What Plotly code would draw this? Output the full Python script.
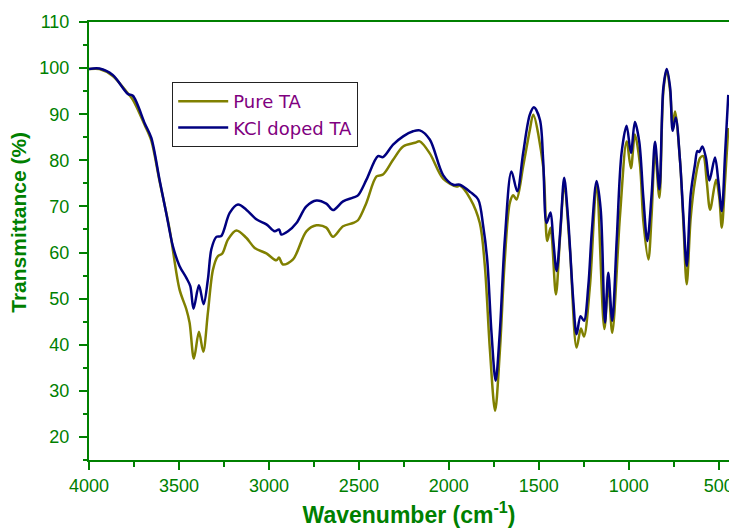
import plotly.graph_objects as go

# Wavenumber (cm^-1) and transmittance (%)
kcl_wn = [4000, 3942, 3868, 3784, 3756, 3690, 3654, 3608, 3571, 3534, 3497, 3459, 3437, 3419,
          3389, 3363, 3339, 3320, 3292, 3265, 3218, 3172, 3126, 3070, 3014, 2968, 2944, 2931,
          2894, 2847, 2792, 2736, 2681, 2644, 2588, 2533, 2505, 2458, 2394, 2366, 2310, 2254,
          2199, 2162, 2106, 2032, 1976, 1939, 1880, 1837, 1809, 1787, 1763, 1740, 1717, 1689,
          1652, 1620, 1587, 1550, 1527, 1494, 1476, 1457, 1435, 1420, 1401, 1379, 1359, 1337,
          1309, 1290, 1268, 1249, 1225, 1206, 1179, 1156, 1132, 1114, 1092, 1067, 1040, 1012,
          988, 966, 942, 919, 897, 873, 854, 830, 808, 789, 770, 756, 739, 715, 697, 678, 656,
          632, 619, 608, 591, 571, 552, 521, 502, 483, 465, 447]
kcl_t = [99.8, 99.9, 98.5, 94.4, 94.0, 88.0, 84.9, 75.8, 68.6, 61.4, 57.1, 54.5, 52.7, 47.8,
         52.9, 48.8, 54.2, 60.7, 63.4, 63.6, 68.6, 70.4, 69.3, 67.2, 66.1, 64.6, 65.0, 63.9,
         64.6, 66.4, 70.0, 71.3, 70.6, 69.2, 71.1, 71.9, 72.4, 75.8, 80.9, 80.7, 83.4, 85.2,
         86.3, 86.5, 84.5, 76.8, 74.7, 74.7, 73.1, 71.5, 65.7, 58.5, 42.6, 32.2, 42.6, 62.8,
         77.6, 73.3, 81.6, 89.9, 91.5, 88.8, 80.1, 66.4, 68.7, 62.8, 56.0, 65.7, 76.2, 67.2,
         49.9, 42.3, 46.2, 45.2, 52.7, 64.3, 75.5, 69.3, 44.8, 55.6, 45.2, 62.8, 81.6, 87.5,
         81.6, 88.3, 84.1, 71.9, 62.5, 72.6, 84.0, 73.7, 95.7, 99.8, 95.7, 86.4, 89.3, 79.8,
         68.2, 57.1, 72.6, 79.1, 82.0, 81.8, 83.0, 80.5, 75.6, 80.6, 75.4, 69.0, 81.2, 94.2]

pure_wn = [4000, 3942, 3868, 3790, 3756, 3690, 3654, 3608, 3552, 3497, 3459, 3441, 3417, 3389,
           3365, 3339, 3311, 3284, 3259, 3228, 3181, 3126, 3079, 3014, 2959, 2944, 2922, 2866,
           2792, 2736, 2681, 2644, 2588, 2533, 2505, 2458, 2402, 2366, 2310, 2254, 2189, 2162,
           2106, 2032, 1957, 1939, 1880, 1828, 1800, 1772, 1743, 1717, 1689, 1661, 1642, 1624,
           1587, 1550, 1531, 1476, 1453, 1435, 1405, 1383, 1359, 1327, 1290, 1266, 1249, 1216,
           1179, 1136, 1114, 1092, 1049, 1012, 988, 966, 938, 919, 891, 873, 854, 830, 808, 789,
           770, 756, 743, 715, 697, 678, 656, 632, 604, 586, 567, 548, 515, 497, 483, 465, 447]
pure_t = [99.8, 99.8, 98.3, 94.8, 93.1, 87.6, 84.3, 75.5, 65.0, 52.0, 47.7, 44.8, 37.0, 42.8,
          38.5, 47.0, 56.3, 59.2, 59.8, 62.8, 64.8, 63.2, 61.0, 59.8, 58.3, 58.9, 57.4, 58.5,
          64.6, 65.9, 65.4, 63.4, 65.7, 66.4, 67.0, 70.8, 76.5, 76.9, 80.1, 83.0, 83.8, 84.1,
          81.5, 76.0, 74.3, 74.5, 71.6, 66.4, 57.1, 39.0, 25.7, 38.3, 58.5, 70.8, 72.4, 71.5,
          78.7, 86.6, 89.9, 78.7, 62.5, 65.4, 50.9, 62.8, 74.4, 60.7, 39.4, 43.5, 41.8, 52.7,
          74.4, 43.4, 53.1, 42.6, 67.9, 84.1, 78.3, 85.6, 79.1, 66.8, 58.5, 68.2, 82.0, 71.9,
          94.9, 99.6, 94.9, 87.4, 90.6, 79.8, 66.8, 53.1, 67.5, 75.5, 80.5, 80.9, 75.5, 69.3,
          75.8, 71.9, 65.4, 75.5, 87.0]

GREEN = "#008000"
FONT = "Liberation Sans, Arial, sans-serif"

fig = go.Figure()
fig.add_trace(go.Scatter(x=pure_wn, y=pure_t, mode="lines", name="Pure TA",
                         line=dict(color="#808000", width=2.5, shape="spline", smoothing=0.9)))
fig.add_trace(go.Scatter(x=kcl_wn, y=kcl_t, mode="lines", name="KCl doped TA",
                         line=dict(color="#000080", width=2.5, shape="spline", smoothing=0.9)))

axis_common = dict(showgrid=False, zeroline=False, showline=True, linecolor=GREEN, linewidth=2,
                   ticks="outside", tickcolor=GREEN, tickwidth=2, ticklen=8,
                   automargin=False,
                   tickfont=dict(family=FONT, size=18, color=GREEN))

fig.update_xaxes(range=[4000, 443], tick0=0, dtick=500, mirror=True,
                 ticklabeloverflow="allow",
                 minor=dict(dtick=250, ticks="outside", ticklen=5, tickwidth=2, tickcolor=GREEN),
                 title=dict(text="Wavenumber (cm<sup>-1</sup>)",
                            font=dict(family=FONT, size=23, color=GREEN, weight="bold"),
                            standoff=12),
                 **axis_common)
fig.update_yaxes(range=[15, 110], tick0=0, dtick=10,
                 minor=dict(dtick=5, ticks="outside", ticklen=4, tickwidth=2, tickcolor=GREEN),
                 ticklabelstandoff=6,
                 **axis_common)

fig.add_annotation(text="Transmittance (%)", textangle=-90, showarrow=False,
                   xref="paper", yref="paper", x=-0.11, y=0.543,
                   xanchor="center", yanchor="middle",
                   font=dict(family=FONT, size=21, color=GREEN, weight="bold"))

fig.update_layout(
    width=729, height=529,
    margin=dict(l=89, r=0, t=22, b=69),
    plot_bgcolor="white", paper_bgcolor="white",
    legend=dict(x=0.13, y=0.863, xanchor="left", yanchor="top",
                bgcolor="white", bordercolor="#222222", borderwidth=1,
                itemwidth=50,
                font=dict(family="DejaVu Sans, sans-serif", size=18, color="#800080"),
                tracegroupgap=0),
)

fig.write_html("out.html")
